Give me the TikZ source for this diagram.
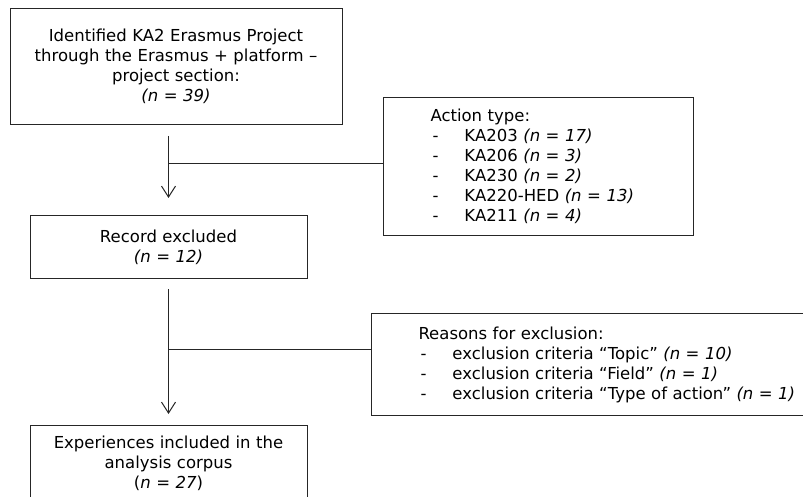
\documentclass[tikz,border=0pt]{standalone}
\usepackage{fontspec}
\setmainfont{DejaVu Sans}
\usetikzlibrary{arrows.meta}
\newcommand{\dashitem}[1]{\mbox{\makebox[34pt][l]{\hspace{2pt}-}#1}}

\begin{document}
\begin{tikzpicture}[x=1pt,y=-1pt,
    box/.style={draw=black!85,line width=1pt,font=\fontsize{16.5}{20}\selectfont},
    mainbox/.style={box,align=center,inner xsep=6pt,anchor=north},
    listbox/.style={box,align=left,inner xsep=47pt,anchor=north west},
    flow/.style={draw=black!85,line width=1pt},
    flowarrow/.style={flow,-{Straight Barb[length=11pt,width=14pt]}}]
    \useasboundingbox (0,0) rectangle (803,497);
    \node[mainbox,text width=320pt,minimum height=116pt](ident) at (176,8) {Identified KA2 Erasmus Project\\through the Erasmus + platform –\\project section:\\\textit{(n = 39)}};
    \node[listbox,text width=216pt,minimum height=138pt](acttype) at (383,97) {Action type:\\
      \dashitem{KA203 \textit{(n = 17)}}\\
      \dashitem{KA206 \textit{(n = 3)}}\\
      \dashitem{KA230 \textit{(n = 2)}}\\
      \dashitem{KA220-HED \textit{(n = 13)}}\\
      \dashitem{KA211 \textit{(n = 4)}}};
    \node[mainbox,text width=265pt,minimum height=63pt](recex) at (168.5,215) {Record excluded\\\textit{(n = 12)}};
    \node[listbox,text width=390pt,minimum height=102pt](reasons) at (371,313) {Reasons for exclusion:\\
      \dashitem{exclusion criteria “Topic” \textit{(n = 10)}}\\
      \dashitem{exclusion criteria “Field” \textit{(n = 1)}}\\
      \dashitem{exclusion criteria “Type of action” \textit{(n = 1)}}};
    \node[mainbox,text width=265pt,minimum height=76pt](incl) at (168.5,425) {Experiences included in the\\analysis corpus\\(\textit{n = 27})};
    \coordinate(actjoin) at ([yshift=3pt]acttype.west);
    \coordinate(reasjoin) at ([yshift=15pt]reasons.west);
    \draw[flowarrow,shorten <=11pt,shorten >=17pt] (recex.north |- ident.south) -- (recex.north);
    \draw[flow] (actjoin) -- (actjoin -| recex.north);
    \draw[flowarrow,shorten <=10pt,shorten >=11pt] (recex.south) -- (incl.north);
    \draw[flow] (reasjoin) -- (reasjoin -| recex.south);
  \end{tikzpicture}
\end{document}
